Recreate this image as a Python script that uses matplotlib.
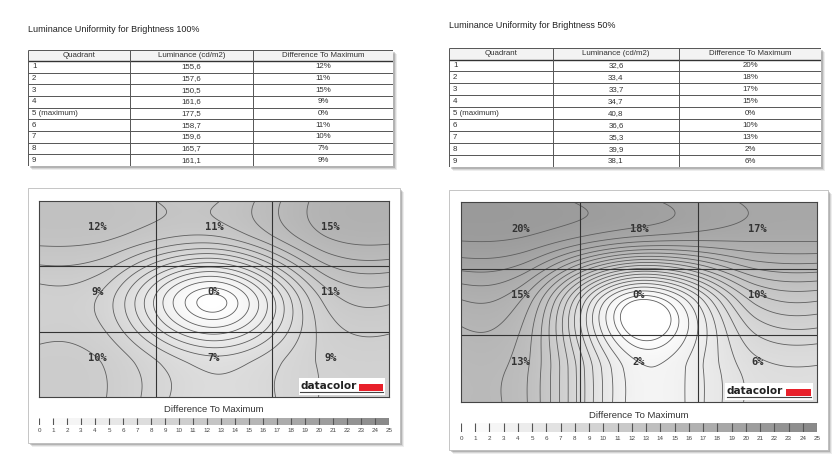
import numpy as np
import matplotlib
matplotlib.use("Agg")
import matplotlib.pyplot as plt
from matplotlib.colors import LinearSegmentedColormap
from matplotlib.patches import Rectangle

# ---------------- data ----------------
headers = ["Quadrant", "Luminance (cd/m2)", "Difference To Maximum"]
quadrants = ["1", "2", "3", "4", "5 (maximum)", "6", "7", "8", "9"]
lum_100 = [155.6, 157.6, 150.5, 161.6, 177.5, 158.7, 159.6, 165.7, 161.1]
diff_100 = [12, 11, 15, 9, 0, 11, 10, 7, 9]
lum_50 = [32.6, 33.4, 33.7, 34.7, 40.8, 36.6, 35.3, 39.9, 38.1]
diff_50 = [20, 18, 17, 15, 0, 10, 13, 2, 6]
titles = ["Luminance Uniformity for Brightness 100%",
          "Luminance Uniformity for Brightness 50%"]
cbar_title = "Difference To Maximum"
cbar_ticks = list(range(0, 26))
contour_levels = [0.3] + list(range(1, 26))

W, H = 835, 470
fig = plt.figure(figsize=(W / 100, H / 100), dpi=100)
fig.patch.set_facecolor("white")
SANS = ["Liberation Sans", "DejaVu Sans"]

cmap = LinearSegmentedColormap.from_list("g", ["#ffffff", "#858585"])


def add_ax(x0, y0, x1, y1, **kw):
    return fig.add_axes([x0 / W, 1 - y1 / H, (x1 - x0) / W, (y1 - y0) / H], **kw)


bg = add_ax(0, 0, W, H)
bg.set_xlim(0, W)
bg.set_ylim(H, 0)
bg.axis("off")


def shadow(x0, y0, x1, y1):
    for k, a in [(4, 0.10), (3, 0.15), (2, 0.25)]:
        bg.add_patch(Rectangle((x0 + k, y0 + k), x1 - x0, y1 - y0,
                               facecolor="#505050", edgecolor="none", alpha=a))


def fmt(v):
    return f"{v:.1f}".replace(".", ",")


def draw_table(x0, y0, x1, y1, head_h, col_x, lums, diffs):
    shadow(x0, y0, x1, y1)
    ax = add_ax(x0, y0, x1, y1)
    w, h = x1 - x0, y1 - y0
    ax.set_xlim(0, w)
    ax.set_ylim(h, 0)
    ax.axis("off")
    ax.add_patch(Rectangle((0, 0), w, h, facecolor="white", edgecolor="none"))
    ax.add_patch(Rectangle((0, 0), w, head_h, facecolor="#f3f3f3", edgecolor="none"))
    n = len(lums)
    rh = (h - head_h) / n
    ys = [0, head_h] + [head_h + rh * (i + 1) for i in range(n)]
    ax.hlines(ys, 0, w, color="#555555", lw=0.7)
    ax.hlines(head_h, 0, w, color="#333333", lw=1.0)
    xs = [0] + [c - x0 for c in col_x] + [w]
    ax.vlines(xs, 0, h, color="#555555", lw=0.7)
    centers = [(xs[i] + xs[i + 1]) / 2 for i in range(3)]
    for i, t in enumerate(headers):
        ax.text(centers[i], head_h / 2, t, ha="center", va="center",
                fontsize=5.7, family=SANS, color="#333333")
    for r in range(n):
        yc = head_h + rh * (r + 0.5)
        ax.text(4, yc, quadrants[r], ha="left", va="center",
                fontsize=5.7, family=SANS, color="#333333")
        ax.text(centers[1], yc, fmt(lums[r]), ha="center", va="center",
                fontsize=5.7, family=SANS, color="#333333")
        ax.text(centers[2], yc, f"{diffs[r]}%", ha="center", va="center",
                fontsize=5.7, family=SANS, color="#333333")


def cr_weights(q):
    """Catmull-Rom weights mapping 3 cell-centre values (edge padded) to query points q."""
    t = np.arange(7) - 1.5
    pad = [0, 0, 0, 1, 2, 2, 2]
    Wm = np.zeros((len(q), 3))
    for k, x in enumerate(q):
        j = int(np.clip(np.floor(x + 1.5), 1, 4))
        s = x - t[j]
        h00 = 2 * s**3 - 3 * s**2 + 1
        h10 = s**3 - 2 * s**2 + s
        h01 = -2 * s**3 + 3 * s**2
        h11 = s**3 - s**2
        w = {j - 1: -h10 / 2, j: h00 - h11 / 2, j + 1: h01 + h10 / 2, j + 2: h11 / 2}
        for idx, val in w.items():
            Wm[k, pad[idx]] += val
    return Wm


def field(values, n=300):
    g = np.linspace(0, 3, n)
    Wg = cr_weights(g)
    V = np.asarray(values, float).reshape(3, 3)
    Z = Wg @ V @ Wg.T
    X, Y = np.meshgrid(g, g)
    return X, Y, np.clip(Z, 0, 25)


def draw_panel(box, hm, cb, cb_title_y, lums, diffs):
    bx0, by0, bx1, by1 = box
    shadow(bx0, by0, bx1, by1)
    bg.add_patch(Rectangle((bx0, by0), bx1 - bx0, by1 - by0, facecolor="white",
                           edgecolor="#bbbbbb", lw=0.6))
    ax = add_ax(*hm)
    lmax = max(lums)
    vals = np.array([(lmax - l) / lmax * 100 for l in lums])
    X, Y, Z = field(vals)
    ax.imshow(Z, extent=[0, 3, 3, 0], cmap=cmap, vmin=0, vmax=25,
              aspect="auto", interpolation="bilinear")
    ax.contour(X, Y, Z, levels=contour_levels, colors="#5e5e5e", linewidths=0.6)
    ax.set_xlim(0, 3)
    ax.set_ylim(3, 0)
    for v in (1, 2):
        ax.axvline(v, color="#333333", lw=0.8)
        ax.axhline(v, color="#333333", lw=0.8)
    for s in ax.spines.values():
        s.set_color("#444444")
        s.set_linewidth(0.8)
    ax.set_xticks([])
    ax.set_yticks([])
    for i, dv in enumerate(diffs):
        ax.text(i % 3 + 0.5, i // 3 + 0.5 - 0.1, f"{dv}%", ha="center", va="center",
                family="DejaVu Sans Mono", weight="bold", fontsize=7.5, color="#333333")
    # logo
    ax.add_patch(Rectangle((0.742, 0.012), 0.246, 0.085, transform=ax.transAxes,
                           facecolor="white", edgecolor="none", zorder=5))
    ax.text(0.746, 0.056, "datacolor", transform=ax.transAxes, ha="left", va="center",
            family="DejaVu Sans", weight="bold", fontsize=7.6, color="#222222", zorder=6)
    ax.add_patch(Rectangle((0.914, 0.032), 0.068, 0.032, transform=ax.transAxes,
                           facecolor="#e8202a", edgecolor="none", zorder=6))
    ax.plot([0.746, 0.982], [0.026, 0.026], transform=ax.transAxes,
            color="#444444", lw=0.8, zorder=6)
    # colorbar
    cx0, cy0, cx1, cy1 = cb
    fig.text((cx0 + cx1) / 2 / W, 1 - cb_title_y / H, cbar_title, ha="center",
             va="center", fontsize=6.8, family=SANS, color="#333333")
    cax = add_ax(cx0, cy0, cx1, cy1)
    cax.set_xlim(0, 25)
    cax.set_ylim(0, 1)
    cax.axis("off")
    for i in cbar_ticks[:-1]:
        cax.add_patch(Rectangle((i, 0), 1, 1, facecolor=cmap(i / 25), edgecolor="none"))
    cax.vlines(cbar_ticks, 0, 1, color="#555555", lw=0.8)
    for t in cbar_ticks:
        cax.text(t, -0.45, str(t), ha="center", va="top", fontsize=4.5,
                 family=SANS, color="#444444", clip_on=False)


# ---------------- left ----------------
fig.text(28 / W, 1 - 29 / H, titles[0], ha="left", va="center", fontsize=6.5,
         family=SANS, color="#222222")
draw_table(28, 50, 393, 166, 11, [130, 253], lum_100, diff_100)
draw_panel((28, 188, 400, 443), (39, 201, 389, 397), (39, 418, 389, 425), 410,
           lum_100, diff_100)

# ---------------- right ----------------
fig.text(449 / W, 1 - 26 / H, titles[1], ha="left", va="center", fontsize=6.5,
         family=SANS, color="#222222")
draw_table(449, 48, 821, 167, 11.5, [553, 679], lum_50, diff_50)
draw_panel((449, 190, 828, 450), (461, 202, 817, 402), (461, 423, 817, 432), 416,
           lum_50, diff_50)

fig.savefig("out.png", dpi=100, facecolor="white")
